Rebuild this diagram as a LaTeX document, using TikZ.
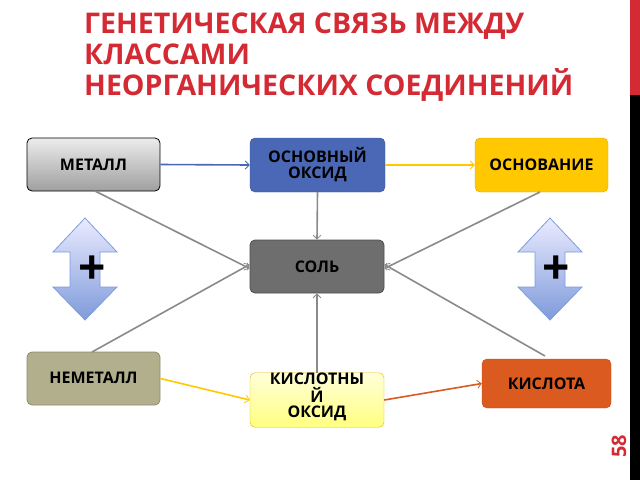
\documentclass[tikz,border=0pt]{standalone}
\usepackage{fontspec}
\setmainfont{Open Sans}
\usetikzlibrary{arrows.meta}
\definecolor{tred}{HTML}{D42A34}
\definecolor{cblue}{HTML}{4A68B5}
\definecolor{cyel}{HTML}{FFC800}
\definecolor{cgray}{HTML}{6E6E6E}
\definecolor{cnon}{HTML}{B2AF8C}
\definecolor{cacid}{HTML}{DA5A20}
\definecolor{lgray}{HTML}{8A8A8A}
\definecolor{ablue}{HTML}{7E9BDB}
\begin{document}
\begin{tikzpicture}[x=1pt,y=-1pt,
 box/.style={rounded corners=5pt,font=\bfseries\fontsize{16}{16}\selectfont,align=center,inner sep=0pt},
 con/.style={line width=1.6pt,-{Straight Barb[length=4pt,width=8pt,line width=0.8pt]}},
 gcon/.style={con,draw=lgray},
 dbl/.style={draw=ablue,line width=0.8pt,top color=blue!8,bottom color=ablue}]
\useasboundingbox (0,0) rectangle (640,480);
\fill[tred] (630,0) rectangle (640,95);
\fill[black] (630,95) rectangle (640,480);
\node[rotate=90,text=tred,font=\bfseries\fontsize{20}{20}\selectfont] (pg) at (619,446) {58};
\node[anchor=north west,text=tred,align=left,font=\bfseries\fontsize{28.5}{31}\selectfont,inner sep=0pt] (title) at (84,13) {ГЕНЕТИЧЕСКАЯ СВЯЗЬ МЕЖДУ\\КЛАССАМИ\\НЕОРГАНИЧЕСКИХ СОЕДИНЕНИЙ};
% nodes
\node[box,draw=black,line width=0.8pt,top color=gray!15,bottom color=gray!75,minimum width=133pt,minimum height=53pt] (met) at (93.5,164.5) {МЕТАЛЛ};
\node[box,draw=cblue!80!black,fill=cblue,minimum width=135pt,minimum height=54pt] (bo) at (317.5,165) {ОСНОВНЫЙ\\ОКСИД};
\node[box,draw=cyel!85!black,fill=cyel,minimum width=133pt,minimum height=54pt] (osn) at (541.5,165) {ОСНОВАНИЕ};
\node[box,draw=black!70,line width=0.8pt,fill=cgray,minimum width=134pt,minimum height=53pt] (salt) at (317,266.5) {СОЛЬ};
\node[box,draw=cnon!80!black,line width=0.8pt,fill=cnon,minimum width=133pt,minimum height=53pt] (non) at (93.5,378.5) {\raisebox{2pt}{НЕМЕТАЛЛ}};
\node[box,draw=cyel!90!black,top color=yellow!15,bottom color=yellow!50,minimum width=134pt,minimum height=54pt] (ao) at (317,400) {\raisebox{10pt}{\shortstack{КИСЛОТНЫ\\Й\\ОКСИД}}};
\node[box,draw=cacid!90!black,fill=cacid,minimum width=129pt,minimum height=49pt] (acid) at (546.5,383.5) {\raisebox{-2pt}{КИСЛОТА}};
% connectors
\draw[con,draw=cblue] (met.east) -- (bo.west);
\draw[con,draw=cyel] (bo.east) -- (osn.west);
\draw[gcon] (bo.south) -- (salt.north);
\draw[gcon] (ao.north) -- (salt.south);
\draw[gcon] (95,191) -- ([yshift=-2pt]salt.west);
\draw[gcon] (540,192) -- ([yshift=-2pt]salt.east);
\draw[gcon] (92,352) -- ([yshift=2pt]salt.west);
\draw[gcon] (545,356) -- ([yshift=2pt]salt.east);
\draw[con,draw=cyel] (non.east) -- (ao.west);
\draw[con,draw=cacid] (ao.east) -- (acid.west);
% double arrows
\foreach \cx/\nm in {85/L,550/R}{
 \draw[dbl] (\cx,218) -- (\cx+32,252) -- (\cx+15,252) -- (\cx+15,287) -- (\cx+32,287) -- (\cx,320) -- (\cx-32,287) -- (\cx-15,287) -- (\cx-15,252) -- (\cx-32,252) -- cycle;
}
\node[font=\bfseries\fontsize{48}{48}\selectfont] (pl) at (92,270) {+};
\node[font=\bfseries\fontsize{48}{48}\selectfont] (pr) at (556,270) {+};
\end{tikzpicture}
\end{document}
